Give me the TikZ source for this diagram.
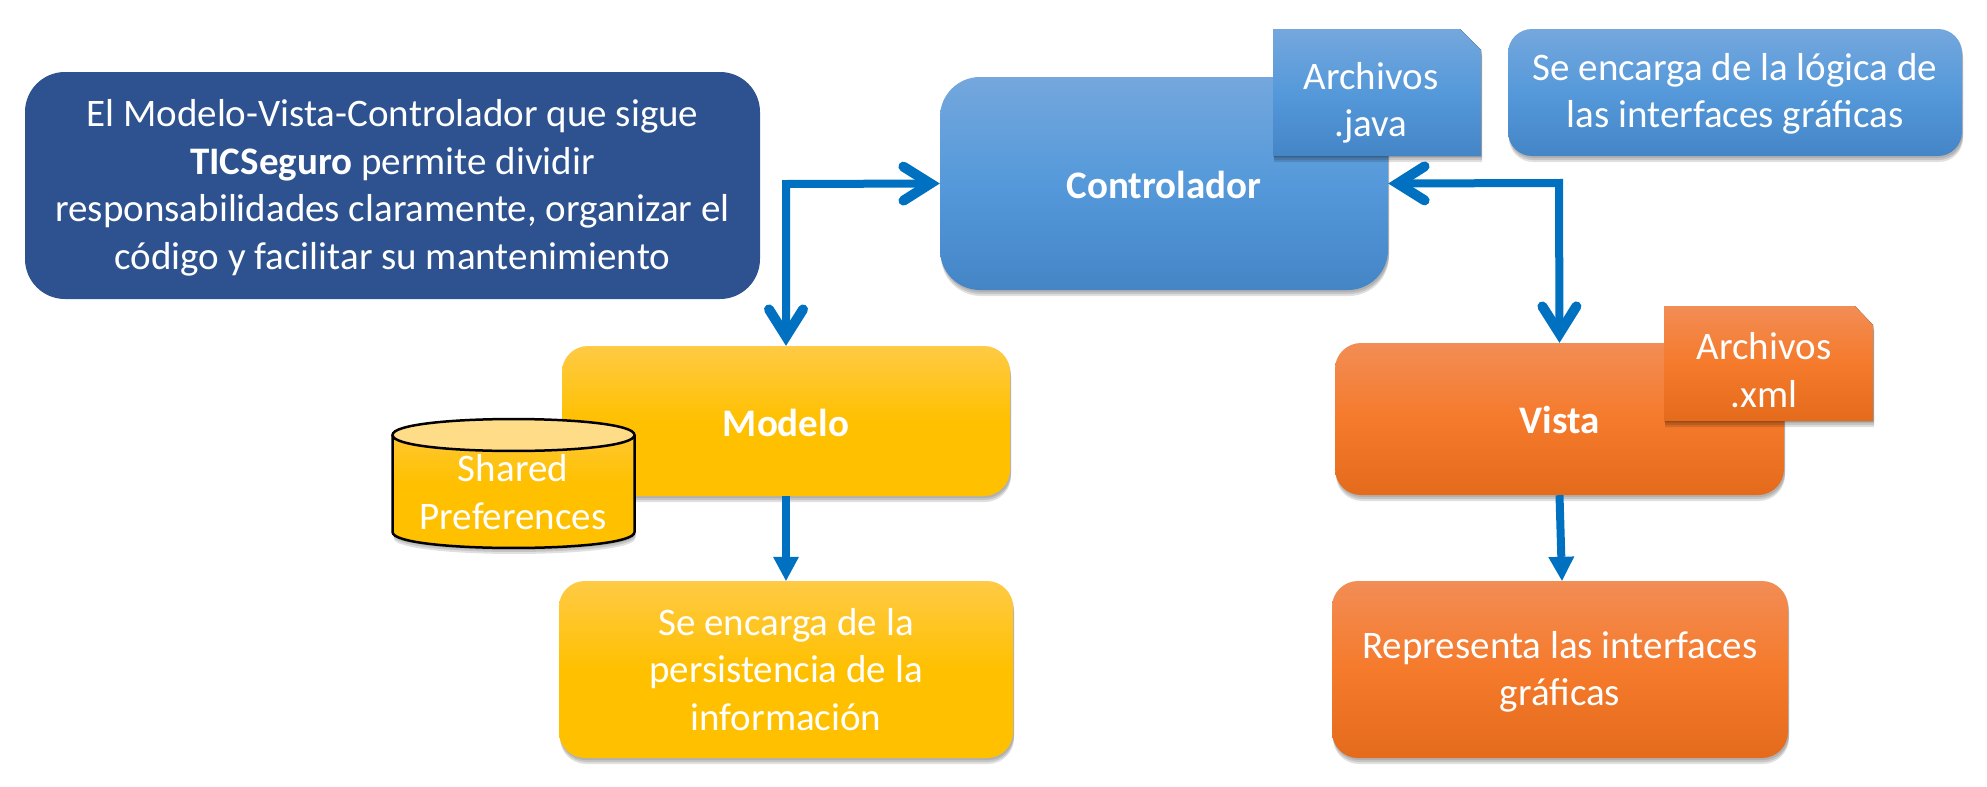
\documentclass[tikz,border=0pt]{standalone}
\usepackage{fontspec}
\setmainfont{Carlito}
\usetikzlibrary{arrows.meta,shadows,calc}
\AtBeginDocument{\global\spaceskip=7.5pt\relax}
\definecolor{arrowblue}{HTML}{0070C0}
\definecolor{navy}{HTML}{2D528F}
\definecolor{blue1}{HTML}{74A7DD}
\definecolor{blue2}{HTML}{4485C6}
\definecolor{blue3}{HTML}{5599DA}
\definecolor{yel1}{HTML}{FFCA45}
\definecolor{yel2}{HTML}{FFC000}
\definecolor{or1}{HTML}{F28D55}
\definecolor{or2}{HTML}{E56B1C}
\definecolor{or3}{HTML}{F57A2B}
\definecolor{cyltop}{HTML}{FFDC88}
\tikzset{
  softshadow/.style={general shadow={fill=black,opacity=.10,shadow xshift=1pt,shadow yshift=-2pt},
                     general shadow={fill=black,opacity=.12,shadow xshift=1pt,shadow yshift=-4pt},
                     general shadow={fill=black,opacity=.12,shadow xshift=1pt,shadow yshift=-6pt}},
  card/.style={rectangle,rounded corners=#1,inner sep=0pt},
  card/.default=26pt,
  bluefill/.style={top color=blue1,bottom color=blue2,middle color=blue3},
  yellowfill/.style={top color=yel1,bottom color=yel2,middle color=yel2},
  orangefill/.style={top color=or1,bottom color=or2,middle color=or3},
  txt/.style={font=\fontsize{39}{47.5}\selectfont},
  label/.style={align=center,text=white},
  boxsize/.style 2 args={minimum width=#1,minimum height=#2},
  flow/.style={draw=arrowblue,line width=8pt},
  solidhead/.style={-{Triangle[length=24pt,width=26pt,line width=0pt,sep=0pt,fill=arrowblue]}},
  twoway/.style={{Straight Barb[length=27pt,width=34pt,line width=10pt,line cap=round,line join=miter]}-{Straight Barb[length=27pt,width=34pt,line width=10pt,line cap=round,line join=miter]}}
}
\begin{document}
\begin{tikzpicture}[x=1pt,y=-1pt,every node/.style={txt}]
\useasboundingbox (0,0) rectangle (1987,787);
\node[card=40pt,fill=navy,boxsize={735pt}{227pt}] (intro) at (392.5,185.5) {};
\node[label] (introtext) at (392.5,188)
  {El Modelo-Vista-Controlador que sigue\\ \textbf{TICSeguro} permite dividir\\ responsabilidades claramente, organizar el\\ código y facilitar su mantenimiento};
\node[card=40pt,bluefill,softshadow,boxsize={448pt}{213pt}] (ctrl) at (1164,183.5) {};
\node[label] (ctrltext) at (1164,185) {\textbf{Controlador}};
\node[card,yellowfill,softshadow,boxsize={448pt}{150pt}] (modelo) at (786,421) {};
\node[label] (modelotext) at (786,423) {\textbf{Modelo}};
\node[card,orangefill,softshadow,boxsize={449pt}{152pt}] (vista) at (1559.5,419) {};
\node[label] (vistatext) at (1559.5,420) {\textbf{Vista}};
\node[card,yellowfill,softshadow,boxsize={454pt}{177pt}] (persist) at (786,669.5) {};
\node[label] (persisttext) at (786,669.5) {Se encarga de la\\ persistencia de la\\ información};
\node[card,orangefill,softshadow,boxsize={456pt}{177pt}] (repr) at (1560,669.5) {};
\node[label] (reprtext) at (1560,672) {Representa las interfaces\\ gráficas};
\node[card=24pt,bluefill,softshadow,boxsize={454pt}{127pt}] (logica) at (1735,92.5) {};
\node[label] (logicatext) at (1735,94) {Se encarga de la lógica de\\ las interfaces gráficas};

% dog-eared files
\fill[bluefill,softshadow] (1273,29) -- (1460,29) -- (1481,50) -- (1481,156) -- (1273,156) -- cycle;
\node[label] (java) at (1371,103) {Archivos\\ .java};
\fill[orangefill,softshadow] (1664,306) -- (1855,306) -- (1873,325) -- (1873,421) -- (1664,421) -- cycle;
\node[label] (xml) at (1764,370) {Archivos\\ .xml};

% shared preferences
\path[top color=yel1,bottom color=yel2,middle color=yel2,softshadow]
  (392.5,435) .. controls (392.5,413.7) and (634.5,413.7) .. (634.5,435) -- (634.5,532)
  .. controls (634.5,553.3) and (392.5,553.3) .. (392.5,532) -- cycle;
\draw[line width=2.5pt,fill=cyltop] (392.5,435) .. controls (392.5,413.7) and (634.5,413.7) .. (634.5,435)
  .. controls (634.5,456.3) and (392.5,456.3) .. (392.5,435) -- cycle;
\draw[line width=2.5pt] (392.5,435) -- (392.5,532)
  .. controls (392.5,553.3) and (634.5,553.3) .. (634.5,532) -- (634.5,435);
\node[label] (prefstext) at (513,492) {Shared\\ Preferences};

% connectors
\coordinate (bendL) at (786,184);
\coordinate (bendR) at (1559,183);
\draw[flow,twoway] (ctrl.west) -- (bendL) -- (modelo.north);
\draw[flow,twoway] (ctrl.east) -- (bendR) -- (vista.north);
\draw[flow,solidhead] (modelo.south) -- (persist.north);
\draw[flow,solidhead] (vista.south) -- ([xshift=2pt]repr.north);
\end{tikzpicture}
\end{document}
